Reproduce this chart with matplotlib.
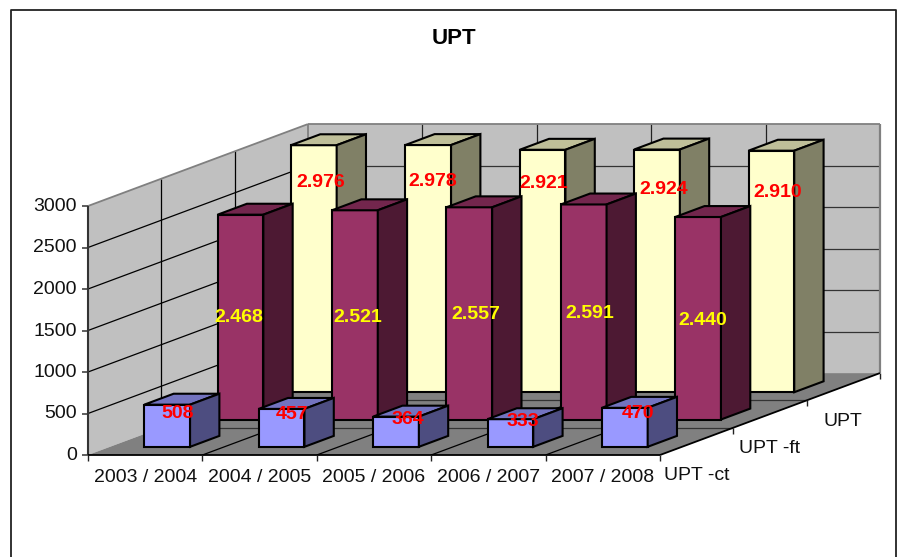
import matplotlib
matplotlib.use('Agg')
import matplotlib.pyplot as plt
from matplotlib.patches import Polygon

plt.rcParams['font.family'] = ['Liberation Sans', 'DejaVu Sans']

categories = ['2003 / 2004', '2004 / 2005', '2005 / 2006', '2006 / 2007', '2007 / 2008']
series_names = ['UPT -ct', 'UPT -ft', 'UPT']
upt_ct = [508, 457, 364, 333, 470]
upt_ft = [2468, 2521, 2557, 2591, 2440]
upt = [2976, 2978, 2921, 2924, 2910]
z_ticks = [0, 500, 1000, 1500, 2000, 2500, 3000]

face_colors = ['#9999FF', '#993366', '#FFFFCC']
top_colors = ['#7373BF', '#73264D', '#BFBF99']
side_colors = ['#4D4D80', '#4D1933', '#808066']

# label offsets in pixels from the bar front face centre, top
label_dx = [[10, 10, 12, 12, 13], [-2, 3, 7, 6, 5], [7, 5, 1, 7, 6]]
label_dy = [[9, 6, 3, 2, 6], [103, 107, 107, 109, 104], [37, 36, 34, 40, 42]]

# oblique projection of the Excel style 3D box
X0, Y0 = 88, 455
CAT_W = 114.4
DEPTH_X, DEPTH_Y = 73.3, -27.3
Z_SCALE = 249 / 3000


def project(cat, depth, z):
    return (X0 + cat * CAT_W + depth * DEPTH_X,
            Y0 + depth * DEPTH_Y - z * Z_SCALE)


def quad(ax, pts, color, edge='none', lw=0, zorder=1):
    ax.add_patch(Polygon(pts, closed=True, facecolor=color, edgecolor=edge,
                         linewidth=lw, joinstyle='miter', zorder=zorder))


def line(ax, a, b, color='black', lw=0.9):
    ax.plot([a[0], b[0]], [a[1], b[1]], color=color, lw=lw, solid_capstyle='butt')


def draw_bar(ax, cat, depth, value, s):
    x1, x2 = cat + 0.3, cat + 0.7
    d1, d2 = depth + 0.3, depth + 0.7
    edge = dict(edge='black', lw=1.5, zorder=3)
    quad(ax, [project(x1, d1, 0), project(x2, d1, 0), project(x2, d1, value), project(x1, d1, value)],
         face_colors[s], **edge)
    quad(ax, [project(x1, d1, value), project(x2, d1, value), project(x2, d2, value), project(x1, d2, value)],
         top_colors[s], **edge)
    quad(ax, [project(x2, d1, 0), project(x2, d2, 0), project(x2, d2, value), project(x2, d1, value)],
         side_colors[s], **edge)


fig = plt.figure(figsize=(8.98, 5.57), dpi=100)
ax = fig.add_axes([0, 0, 1, 1])
ax.set_xlim(0, 898)
ax.set_ylim(557, 0)
ax.axis('off')

# chart frame, runs off the bottom
ax.plot([10.5, 10.5, 895.5, 895.5], [557, 9.5, 9.5, 557], color='#222222', lw=1.3)

# walls and floor
n_cat, n_depth = len(categories), len(series_names)
top = z_ticks[-1]
quad(ax, [project(0, 0, 0), project(0, n_depth, 0), project(0, n_depth, top), project(0, 0, top)], '#C0C0C0')
quad(ax, [project(0, n_depth, 0), project(n_cat, n_depth, 0), project(n_cat, n_depth, top), project(0, n_depth, top)], '#C0C0C0')
quad(ax, [project(0, 0, 0), project(n_cat, 0, 0), project(n_cat, n_depth, 0), project(0, n_depth, 0)], '#808080')

for z in z_ticks[1:-1]:
    line(ax, project(0, 0, z), project(0, n_depth, z))
    line(ax, project(0, n_depth, z), project(n_cat, n_depth, z), color='#333333')
for d in range(1, n_depth):
    line(ax, project(0, d, 0), project(0, d, top))
    line(ax, project(0, d, 0), project(n_cat, d, 0), color='#333333')
for c in range(1, n_cat):
    line(ax, project(c, n_depth, 0), project(c, n_depth, top), color='#222222')
    line(ax, project(c, 0, 0), project(c, n_depth, 0))

# wall outline
line(ax, project(0, 0, top), project(0, n_depth, top), color='#808080', lw=1.3)
line(ax, project(0, n_depth, top), project(n_cat, n_depth, top), color='#808080', lw=1.3)
line(ax, project(0, n_depth, 0), project(0, n_depth, top), color='#808080', lw=1.3)
line(ax, project(n_cat, n_depth, 0), project(n_cat, n_depth, top), color='#808080', lw=1.6)
line(ax, project(0, 0, 0), project(0, 0, top), color='#333333', lw=1.5)
line(ax, project(0, 0, 0), project(n_cat, 0, 0), color='black', lw=1.3)
line(ax, project(n_cat, 0, 0), project(n_cat, n_depth, 0), color='black', lw=1.3)

# ticks and tick labels
for z in z_ticks:
    x, y = project(0, 0, z)
    line(ax, (x - 6, y), (x, y), color='#333333', lw=1.1)
    ax.text(x - 11, y + 0.5, str(z), ha='right', va='center', fontsize=14, color='#111111')
for c in range(n_cat + 1):
    x, y = project(c, 0, 0)
    line(ax, (x, y), (x, y + 6), color='#222222', lw=1.0)
for d in range(1, n_depth + 1):
    x, y = project(n_cat, d, 0)
    line(ax, (x, y), (x, y + 6), color='#222222', lw=1.0)
for c, name in enumerate(categories):
    x, y = project(c + 0.5, 0, 0)
    ax.text(x, y + 22, name, ha='center', va='center', fontsize=14, color='#111111')
for d, name in enumerate(series_names):
    x, y = project(n_cat, d + 0.5, 0)
    ax.text(x, y + 34.5, name, ha='center', va='center', fontsize=14, color='#111111')

# bars, back row first, right to left
rows = [upt_ct, upt_ft, upt]
for s in reversed(range(n_depth)):
    for c in reversed(range(n_cat)):
        draw_bar(ax, c, s, rows[s][c], s)

# data labels on top of everything
for s in range(n_depth):
    for c in range(n_cat):
        value = rows[s][c]
        x, y = project(c + 0.5, s + 0.3, value)
        text = f'{value:,}'.replace(',', '.')
        color = 'yellow' if s == 1 else 'red'
        ax.text(x + label_dx[s][c], y + label_dy[s][c], text, ha='center', va='center',
                fontsize=14, fontweight='bold', color=color, zorder=10)

ax.text(454, 38, 'UPT', ha='center', va='center', fontsize=16, fontweight='bold', color='black')

fig.savefig('out.png', dpi=100)
